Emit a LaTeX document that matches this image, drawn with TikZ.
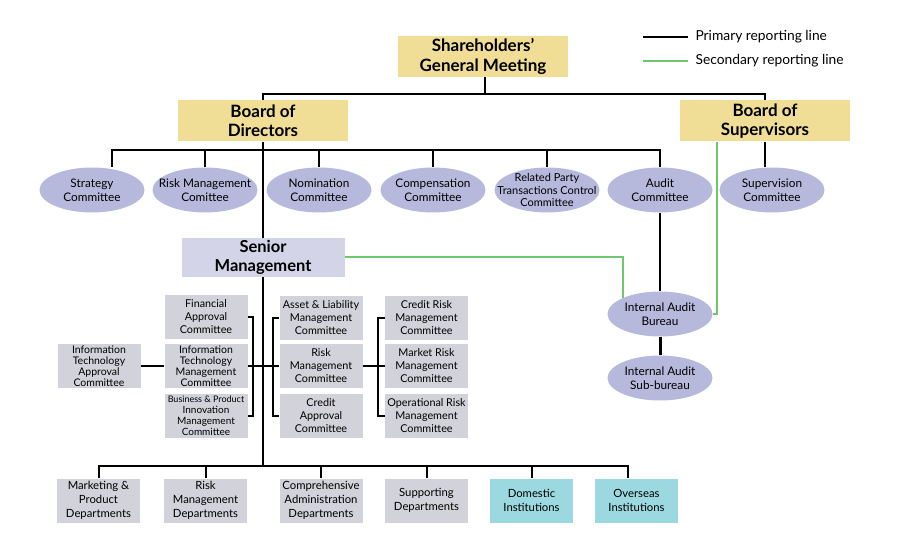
\documentclass[tikz,border=0pt]{standalone}
\usepackage{fontspec}
\setmainfont{Lato}
\usetikzlibrary{shapes.geometric, positioning}
\definecolor{boardyellow}{RGB}{240,222,150}
\definecolor{commlilac}{RGB}{183,185,220}
\definecolor{mgmtgray}{RGB}{210,210,218}
\definecolor{smlilac}{RGB}{212,212,232}
\definecolor{instcyan}{RGB}{155,216,224}
\definecolor{linegreen}{RGB}{110,198,110}

\begin{document}
\begin{tikzpicture}[x=1pt, y=-1pt,
    board/.style={fill=boardyellow, minimum width=170pt, minimum height=41pt, inner sep=0pt, align=center, font=\fontsize{17}{19.5}\selectfont\bfseries},
    comm/.style={ellipse, fill=commlilac, minimum width=105pt, minimum height=45pt, inner xsep=-14pt, inner ysep=-6pt, align=center, font=\fontsize{11.8}{14}\selectfont},
    unit/.style={fill=mgmtgray, minimum width=83pt, minimum height=44pt, inner sep=0pt, align=center, font=\fontsize{10.8}{13}\selectfont},
    inst/.style={unit, fill=instcyan},
    prim/.style={line width=2pt},
    sec/.style={line width=2pt, linegreen}]
    \useasboundingbox (0,0) rectangle (900,540);

    % Top level
    \node[board] (sgm) at (483,56.5) {Shareholders’\\General Meeting};
    \node[board] (bod) at (263,121) {Board of\\Directors};
    \node[board] (bos) at (765,121) {Board of\\Supervisors};

    % Legend
    \node[anchor=west, font=\fontsize{13.8}{16}\selectfont] (lgprim) at (692,37) {Primary reporting line};
    \node[anchor=west, font=\fontsize{13.8}{16}\selectfont] (lgsec) at (692,61) {Secondary reporting line};
    \draw[line width=2.6pt] ([xshift=-49pt]lgprim.west) -- ([xshift=-4pt]lgprim.west);
    \draw[sec, line width=2.6pt] ([xshift=-49pt]lgsec.west) -- ([xshift=-4pt]lgsec.west);

    % Committees
    \node[comm] (strat) at (92,190) {Strategy\\Committee};
    \node[comm] (riskc) at (205,190) {Risk Management\\Comittee};
    \node[comm] (nomin) at (319,190) {Nomination\\Committee};
    \node[comm] (compc) at (433,190) {Compensation\\Committee};
    \node[comm, font=\fontsize{11}{12.5}\selectfont] (relpt) at (547,190) {Related Party\\Transactions Control\\Committee};
    \node[comm] (audit) at (660,190) {Audit\\Committee};
    \node[comm] (superv) at (772,190) {Supervision\\Committee};

    % Senior management and internal audit
    \node[fill=smlilac, minimum width=163pt, minimum height=39pt, inner sep=0pt, align=center, font=\fontsize{16.5}{18.5}\selectfont\bfseries] (sm) at (263,257.5) {Senior\\Management};
    \node[comm] (iab) at (660,314) {Internal Audit\\Bureau};
    \node[comm] (iasb) at (660,378) {Internal Audit\\Sub-bureau};

    % Management committees
    \node[unit] (fin) at (206,316.5) {Financial\\Approval\\Committee};
    \node[unit, font=\fontsize{10.5}{11}\selectfont] (itm) at (206,366) {Information\\Technology\\Management\\Committee};
    \node[unit, font=\fontsize{10}{11}\selectfont] (bpi) at (206,415.5) {{\fontsize{9}{11}\selectfont Business \& Product}\\Innovation\\Management\\Committee};
    \node[unit, font=\fontsize{10.5}{11}\selectfont] (ita) at (99,366) {Information\\Technology\\Approval\\Committee};
    \node[unit] (alm) at (321,318) {Asset \& Liability\\Management\\Committee};
    \node[unit] (rmc) at (321,366) {Risk\\Management\\Committee};
    \node[unit] (cap) at (321,415.5) {Credit\\Approval\\Committee};
    \node[unit] (crm) at (426.5,317.5) {Credit Risk\\Management\\Committee};
    \node[unit] (mrm) at (426.5,366) {Market Risk\\Management\\Committee};
    \node[unit] (orm) at (426.5,416) {Operational Risk\\Management\\Committee};

    % Departments and institutions
    \node[unit, font=\fontsize{11.3}{14}\selectfont] (mkt) at (98.5,500.5) {Marketing \&\\Product\\Departments};
    \node[unit, font=\fontsize{11.3}{14}\selectfont] (rmd) at (205.5,500.5) {Risk\\Management\\Departments};
    \node[unit, font=\fontsize{11.3}{14}\selectfont] (cad) at (321,500.5) {Comprehensive\\Administration\\Departments};
    \node[unit, font=\fontsize{11.3}{14}\selectfont] (sup) at (426.5,500.5) {Supporting\\Departments};
    \node[inst, font=\fontsize{11.3}{14}\selectfont] (dom) at (531.5,500.5) {Domestic\\Institutions};
    \node[inst, font=\fontsize{11.3}{14}\selectfont] (ovs) at (636.5,500.5) {Overseas\\Institutions};

    % Bus points
    \coordinate (sgmbus) at (485,94);
    \coordinate (combus) at (263,150);
    \coordinate (midjoint) at (263,366);
    \coordinate (lbr) at (253,366);
    \coordinate (rbr) at (273,366);
    \coordinate (rbr2) at (378,366);
    \coordinate (botbus) at (263,466);

    % Primary reporting lines
    \draw[prim] (sgm.south -| sgmbus) -- (sgmbus);
    \draw[prim] (bod.north) |- (sgmbus);
    \draw[prim] (bos.north) |- (sgmbus);
    \draw[prim] (combus) -| ([xshift=20pt]strat.north);
    \draw[prim] (combus) -| (riskc.north);
    \draw[prim] (combus) -| (nomin.north);
    \draw[prim] (combus) -| (compc.north);
    \draw[prim] (combus) -| (relpt.north);
    \draw[prim] (combus) -| (audit.north);
    \draw[prim] (bos.south) -- (bos.south |- superv.north);
    \draw[prim] (bod.south) -- (sm.north);
    \draw[prim] (sm.south) -- (botbus);
    \draw[prim] (audit.south) -- (iab.north);
    \draw[line width=3pt] (iab.south) -- (iasb.north);

    \draw[prim] (ita.east) -- (itm.west);
    \draw[prim] (fin.east) -| (lbr) |- (bpi.east);
    \draw[prim] (itm.east) -- (midjoint) -- (rmc.west);
    \draw[prim] (alm.west) -| (rbr) |- (cap.west);
    \draw[prim] (crm.west) -| (rbr2) |- (orm.west);
    \draw[prim] (rmc.east) -- (mrm.west);

    \draw[prim] (botbus) -| (mkt.north);
    \draw[prim] (botbus) -| (rmd.north);
    \draw[prim] (botbus) -| (cad.north);
    \draw[prim] (botbus) -| (sup.north);
    \draw[prim] (botbus) -| (dom.north);
    \draw[prim] (botbus) -| ([xshift=-9pt]ovs.north);

    % Secondary reporting lines
    \draw[sec] (sm.east) -| (iab.north west);
    \draw[sec] (iab.east) -| ([xshift=-48pt]bos.south);
\end{tikzpicture}
\end{document}
